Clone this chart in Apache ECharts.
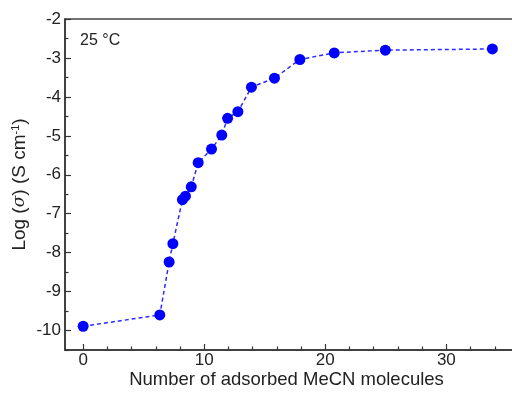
<!DOCTYPE html>
<html>
<head>
<meta charset="utf-8">
<script src="https://cdn.jsdelivr.net/npm/echarts@6/dist/echarts.min.js"></script>
<style>html,body{margin:0;padding:0;background:#fff;overflow:hidden}#c{width:512px;height:394px}</style>
</head>
<body>
<div id="c"></div>
<script>
const xValues = [0, 6.33, 7.1, 7.41, 8.2, 8.45, 8.93, 9.5, 10.6, 11.45, 11.93, 12.78, 13.9, 15.8, 17.9, 20.74, 24.96, 33.8];
const logSigma = [-9.89, -9.6, -8.24, -7.77, -6.64, -6.55, -6.31, -5.69, -5.34, -4.98, -4.55, -4.38, -3.75, -3.52, -3.04, -2.87, -2.80, -2.77];
const xMajorTicks = [0, 10, 20, 30];
const xMinorTicks = [2, 4, 6, 8, 12, 14, 16, 18, 22, 24, 26, 28, 32, 34];
const yMajorTicks = [-10, -9, -8, -7, -6, -5, -4, -3, -2];
const yMinorTicks = [-10.5, -9.5, -8.5, -7.5, -6.5, -5.5, -4.5, -3.5, -2.5];
const xTitle = 'Number of adsorbed MeCN molecules';
const annotation = '25 °C';

const FONT = '"Liberation Sans", Arial, sans-serif';
const axisColor = '#333';
const chart = echarts.init(document.getElementById('c'), null, {renderer: 'canvas'});
const xMin = -1.5, xMax = 36, yMin = -10.5, yMax = -2;

chart.setOption({
  animation: false,
  backgroundColor: '#fff',
  grid: {show: true, left: 65, top: 19, width: 454, height: 331, outerBoundsMode: 'none', containLabel: false,
         borderColor: '#444', borderWidth: 1.5, backgroundColor: 'transparent'},
  title: {text: annotation, left: 80, top: 33, padding: 0, textStyle: {fontFamily: FONT, fontSize: 16, fontWeight: 'normal', color: '#222'}},
  xAxis: [
    {
      type: 'value', min: xMin, max: xMax, position: 'bottom',
      axisLine: {show: true, onZero: false, lineStyle: {color: axisColor, width: 1.5}},
      axisTick: {show: true, inside: true, length: 6, customValues: xMajorTicks, lineStyle: {color: axisColor, width: 1.2}},
      axisLabel: {customValues: xMajorTicks, fontFamily: FONT, fontSize: 17, color: '#222', margin: 2},
      splitLine: {show: false},
      name: xTitle, nameLocation: 'middle', nameGap: 20, nameMoveOverlap: false,
      nameTextStyle: {fontFamily: FONT, fontSize: 18.5, color: '#222', padding: [0, 11, 0, 0]}
    },
    {
      type: 'value', min: xMin, max: xMax, position: 'bottom',
      axisLine: {show: false, onZero: false},
      axisTick: {show: true, inside: true, length: 3.5, customValues: xMinorTicks, lineStyle: {color: axisColor, width: 1.2}},
      axisLabel: {show: false},
      splitLine: {show: false}
    }
  ],
  yAxis: [
    {
      type: 'value', min: yMin, max: yMax, position: 'left',
      axisLine: {show: true, onZero: false, lineStyle: {color: axisColor, width: 1.5}},
      axisTick: {show: true, inside: true, length: 6, customValues: yMajorTicks, lineStyle: {color: axisColor, width: 1.2}},
      axisLabel: {customValues: yMajorTicks, fontFamily: FONT, fontSize: 17, color: '#222', margin: 4},
      splitLine: {show: false},
      name: '{n|Log (}{i|σ}{n|) (S cm}{s|-1}{n|)}', nameLocation: 'middle', nameGap: 35, nameMoveOverlap: false,
      nameTextStyle: {
        fontFamily: FONT, fontSize: 19, color: '#222',
        rich: {
          n: {fontFamily: FONT, fontSize: 19, color: '#222'},
          i: {fontFamily: '"DejaVu Serif", serif', fontStyle: 'italic', fontSize: 17, color: '#222'},
          s: {fontFamily: FONT, fontSize: 11, color: '#222', verticalAlign: 'top', padding: [0, 0, 9, 0]}
        }
      }
    },
    {
      type: 'value', min: yMin, max: yMax, position: 'left',
      axisLine: {show: false, onZero: false},
      axisTick: {show: true, inside: true, length: 3.5, customValues: yMinorTicks, lineStyle: {color: axisColor, width: 1.2}},
      axisLabel: {show: false},
      splitLine: {show: false}
    }
  ],
  series: [{
    type: 'line',
    xAxisIndex: 0, yAxisIndex: 0,
    data: xValues.map((x, i) => [x, logSigma[i]]),
    symbol: 'circle', symbolSize: 11,
    itemStyle: {color: '#0000ff'},
    lineStyle: {color: '#2a2aff', width: 1.5, type: [4, 3]},
    z: 3
  }]
});
</script>
</body>
</html>
